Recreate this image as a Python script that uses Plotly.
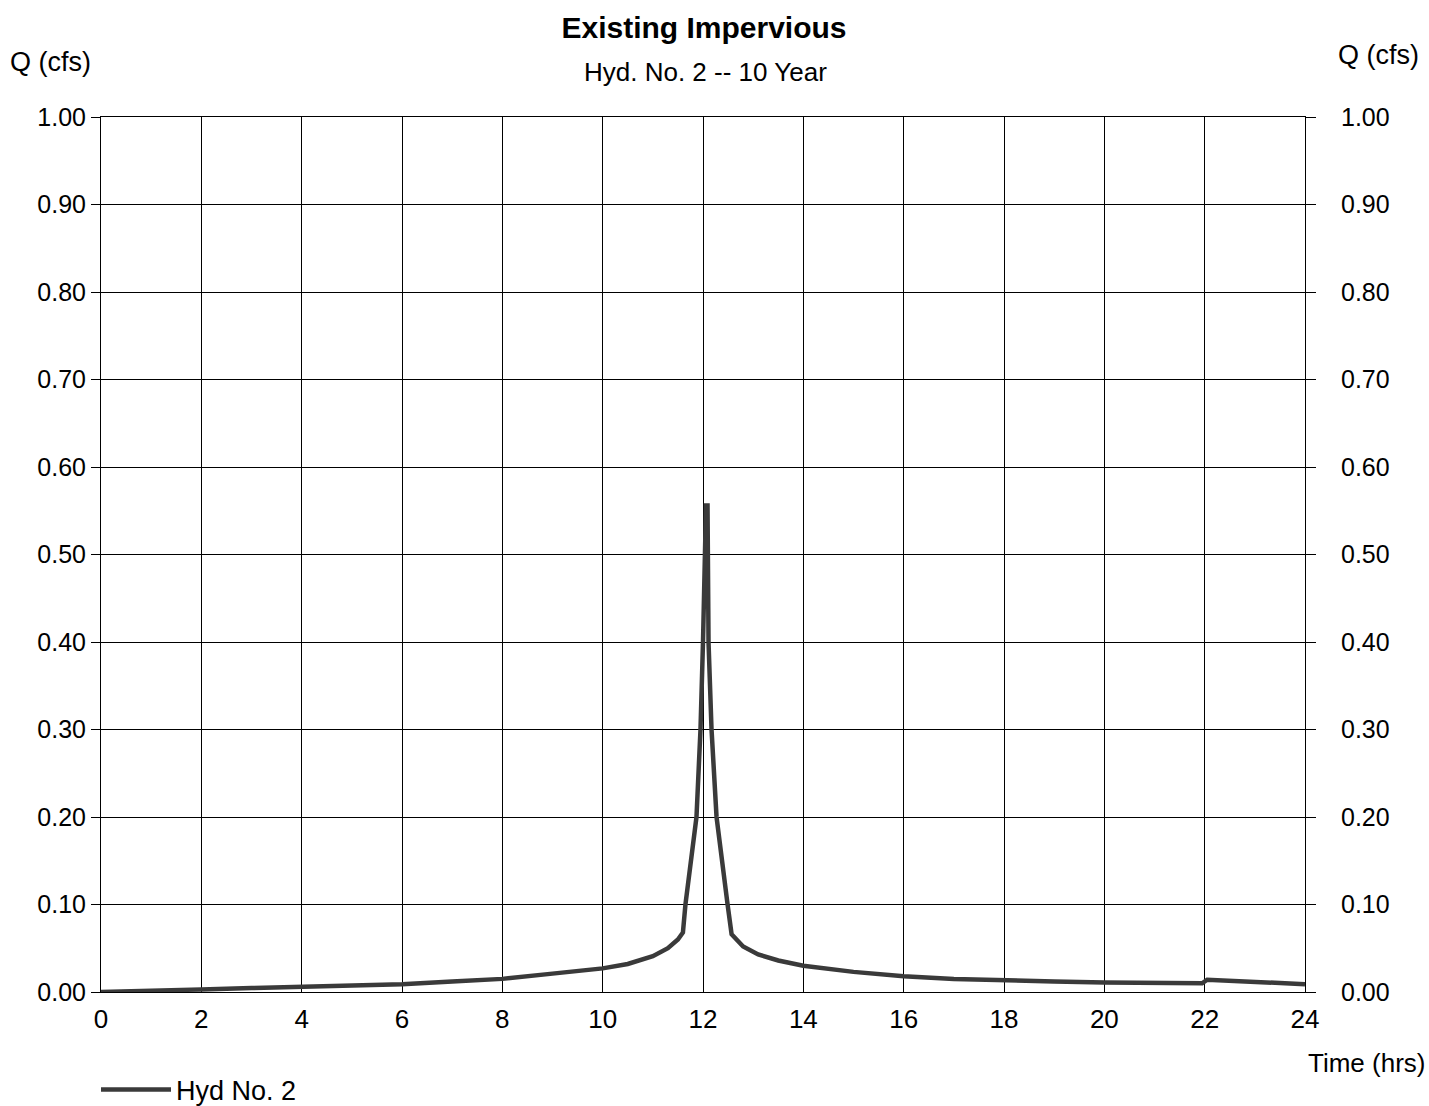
import plotly.graph_objects as go

# Hydrograph data (Time in hrs, Q in cfs)
time_hrs = [0, 1, 2, 3, 4, 5, 6, 7, 8, 9, 10, 10.5, 11, 11.3, 11.5, 11.6,
            11.65, 11.87, 11.95, 12.0, 12.03, 12.06, 12.09, 12.11, 12.17, 12.27,
            12.49, 12.57, 12.8, 13.1, 13.5, 14, 15, 16, 17, 18, 19, 20, 21,
            21.95, 22.05, 23, 24]
flow_cfs = [0.000, 0.001, 0.003, 0.0045, 0.006, 0.0075, 0.009, 0.012, 0.015, 0.021,
            0.027, 0.032, 0.041, 0.050, 0.060, 0.068,
            0.100, 0.200, 0.300, 0.400, 0.500, 0.556, 0.556, 0.400, 0.300, 0.200,
            0.100, 0.066, 0.052, 0.043, 0.036, 0.030, 0.023, 0.018, 0.015, 0.013,
            0.012, 0.011, 0.011, 0.010, 0.014, 0.011, 0.009]

x_ticks = list(range(0, 25, 2))
y_ticks = [round(i * 0.1, 1) for i in range(11)]
y_tick_text = [f"{v:.2f}" for v in y_ticks]

FONT = "Liberation Sans, Arial, sans-serif"

fig = go.Figure()
fig.add_trace(go.Scatter(
    x=time_hrs, y=flow_cfs, mode="lines", name="Hyd No. 2",
    line=dict(color="#3a3a3a", width=4.5),
))
# invisible trace to activate right axis
fig.add_trace(go.Scatter(
    x=[0, 24], y=[0, 1], yaxis="y2", mode="lines",
    line=dict(width=0, color="rgba(0,0,0,0)"), showlegend=False, hoverinfo="skip",
))

W, H = 1429, 1106
L, R, T, B = 101, 1305, 117, 992
PW, PH = R - L, B - T

fig.update_layout(
    width=W, height=H,
    paper_bgcolor="white", plot_bgcolor="white",
    margin=dict(l=L, r=W - R, t=T, b=H - B),
    font=dict(family=FONT, color="black", size=25),
    title=dict(text="<b>Existing Impervious</b>", x=704 / W, xanchor="center",
               y=1 - 27 / H, yanchor="middle", font=dict(size=30, family=FONT)),
    xaxis=dict(range=[0, 24], tickvals=x_ticks, ticktext=[str(v) for v in x_ticks],
               showgrid=True, gridcolor="black", gridwidth=1,
               showline=True, linecolor="black", linewidth=1, mirror=True,
               ticks="", ticklabelstandoff=4, zeroline=False, tickfont=dict(size=26)),
    yaxis=dict(range=[0, 1.0], tickvals=y_ticks, ticktext=y_tick_text,
               showgrid=True, gridcolor="black", gridwidth=1,
               showline=True, linecolor="black", linewidth=1, mirror=True,
               ticks="outside", ticklen=9, tickcolor="black",
               zeroline=False, tickfont=dict(size=25)),
    yaxis2=dict(range=[0, 1.0], tickvals=y_ticks, ticktext=y_tick_text,
                overlaying="y", side="right", showgrid=False,
                ticks="outside", ticklen=10, tickcolor="black", ticklabelstandoff=20,
                zeroline=False, tickfont=dict(size=25)),
    showlegend=True,
    legend=dict(orientation="h", xref="container", yref="container",
                x=(L - 5) / W, xanchor="left", y=1 - 1090 / H, yanchor="middle",
                itemwidth=70, font=dict(size=27), bgcolor="rgba(0,0,0,0)"),
    annotations=[
        dict(text="Hyd. No. 2 -- 10 Year", xref="paper", yref="paper",
             x=(705 - L) / PW, y=1 + (T - 72) / PH, xanchor="center", yanchor="middle",
             showarrow=False, font=dict(size=26)),
        dict(text="Q (cfs)", xref="paper", yref="paper",
             x=(50 - L) / PW, y=1 + (T - 62) / PH, xanchor="center", yanchor="middle",
             showarrow=False, font=dict(size=27)),
        dict(text="Q (cfs)", xref="paper", yref="paper",
             x=(1378 - L) / PW, y=1 + (T - 55) / PH, xanchor="center", yanchor="middle",
             showarrow=False, font=dict(size=27)),
        dict(text="Time (hrs)", xref="paper", yref="paper",
             x=(1366 - L) / PW, y=-(1063 - B) / PH, xanchor="center", yanchor="middle",
             showarrow=False, font=dict(size=26)),
    ],
)

fig.write_html("out.html", config={"displayModeBar": False},
               post_script="document.body.style.margin='0';")
